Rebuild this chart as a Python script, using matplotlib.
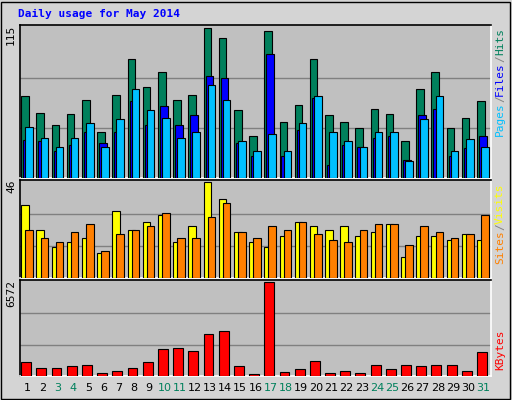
import matplotlib
matplotlib.use("Agg")
import matplotlib.pyplot as plt
from matplotlib.patches import Rectangle
import numpy as np

days = list(range(1, 32))
hits = [63,50,41,49,60,35,64,91,70,81,60,64,115,107,52,32,113,43,56,91,48,43,38,53,49,28,68,81,38,46,59]
files = [29,28,21,25,35,27,35,59,41,55,41,48,78,77,27,17,95,17,37,61,10,25,24,31,32,14,48,53,17,23,32]
pages = [39,31,24,31,42,24,45,68,52,46,31,35,71,60,28,21,34,21,42,63,35,28,24,35,35,13,45,63,21,30,24]
visits = [35,23,15,17,19,12,32,23,27,30,17,25,46,38,22,17,15,20,27,25,23,25,20,22,26,10,20,20,18,21,18]
sites = [23,19,17,22,26,13,21,23,25,31,19,19,29,36,22,19,25,23,27,21,18,17,23,26,26,16,25,22,19,21,30]
kbytes = [960,528,528,672,744,240,384,528,960,1895,1967,1751,2903,3118,672,168,6572,312,456,1031,240,384,240,744,456,744,672,744,744,384,1679]
weekends = [3,4,10,11,17,18,24,25,31]

W, H = 512, 400
fig = plt.figure(figsize=(W/100, H/100), dpi=100)
fig.patch.set_facecolor("#d4d4d4")
mono = "DejaVu Sans Mono"

def ax_px(x0, y0, x1, y1):
    return fig.add_axes([x0/W, 1-y1/H, (x1-x0)/W, (y1-y0)/H])

def setup(ax, ymax, label):
    ax.set_facecolor("#c0c0c0")
    ax.set_xlim(0.5, 31.5)
    ax.set_ylim(0, ymax*1.02)
    for f in (1/3, 2/3):
        ax.axhline(ymax*f, color="#808080", lw=1, zorder=0)
    ax.set_xticks([]); ax.set_yticks([])
    for s in ax.spines.values():
        s.set_color("white"); s.set_linewidth(1.2)
    ax.spines["left"].set_color("black"); ax.spines["top"].set_color("black")
    fig.text(ax.get_position().x0 - 4/W, ax.get_position().y1, label, rotation=90,
             ha="right", va="top", fontsize=8, family=mono)

def bars(ax, vals, off, color, w=0.5):
    ax.bar(np.array(days)+off, vals, width=w, align="edge", color=color,
           edgecolor="black", linewidth=0.8, zorder=3)

a1 = ax_px(20, 25, 491, 178)
setup(a1, 115, "115")
bars(a1, hits, -0.42, "#00805c")
bars(a1, files, -0.29, "#0000ff")
bars(a1, pages, -0.15, "#00c0ff")

a2 = ax_px(20, 180, 491, 278)
setup(a2, 46, "46")
bars(a2, visits, -0.42, "#ffff00")
bars(a2, sites, -0.15, "#ff8000")

a3 = ax_px(20, 280, 491, 376)
setup(a3, 6572, "6572")
bars(a3, kbytes, -0.42, "#ff0000", w=0.65)

for d in days:
    x = 20 + (d-0.5)/31*471
    fig.text(x/W, 1-388/H, str(d), ha="center", va="center", fontsize=8,
             color="#00805c" if d in weekends else "black")

fig.text(18/W, 1-14/H, "Daily usage for May 2014", color="#0000ff", fontsize=8,
         fontweight="bold", family=mono, va="center")

renderer = fig.canvas.get_renderer()
def rlabel(y_top, parts):
    y = y_top
    for txt, c in parts:
        t = fig.text(500/W, 1-y/H, txt, rotation=90, color=c, fontsize=8,
                     family=mono, ha="center", va="top")
        ext = t.get_window_extent(renderer)
        y += ext.height
rlabel(28, [("Hits", "#00805c"), ("/", "#808080"), ("Files", "#0000ff"), ("/", "#808080"), ("Pages", "#00c0ff")])
rlabel(183, [("Visits", "#ffff00"), ("/", "#808080"), ("Sites", "#ff8000")])
rlabel(330, [("KBytes", "#ff0000")])

fig.add_artist(Rectangle((1/W, 1/H), 1-3/W, 1-3/H, transform=fig.transFigure,
                         fill=False, edgecolor="black", lw=1))
fig.savefig("out.png", dpi=100, facecolor=fig.get_facecolor())
